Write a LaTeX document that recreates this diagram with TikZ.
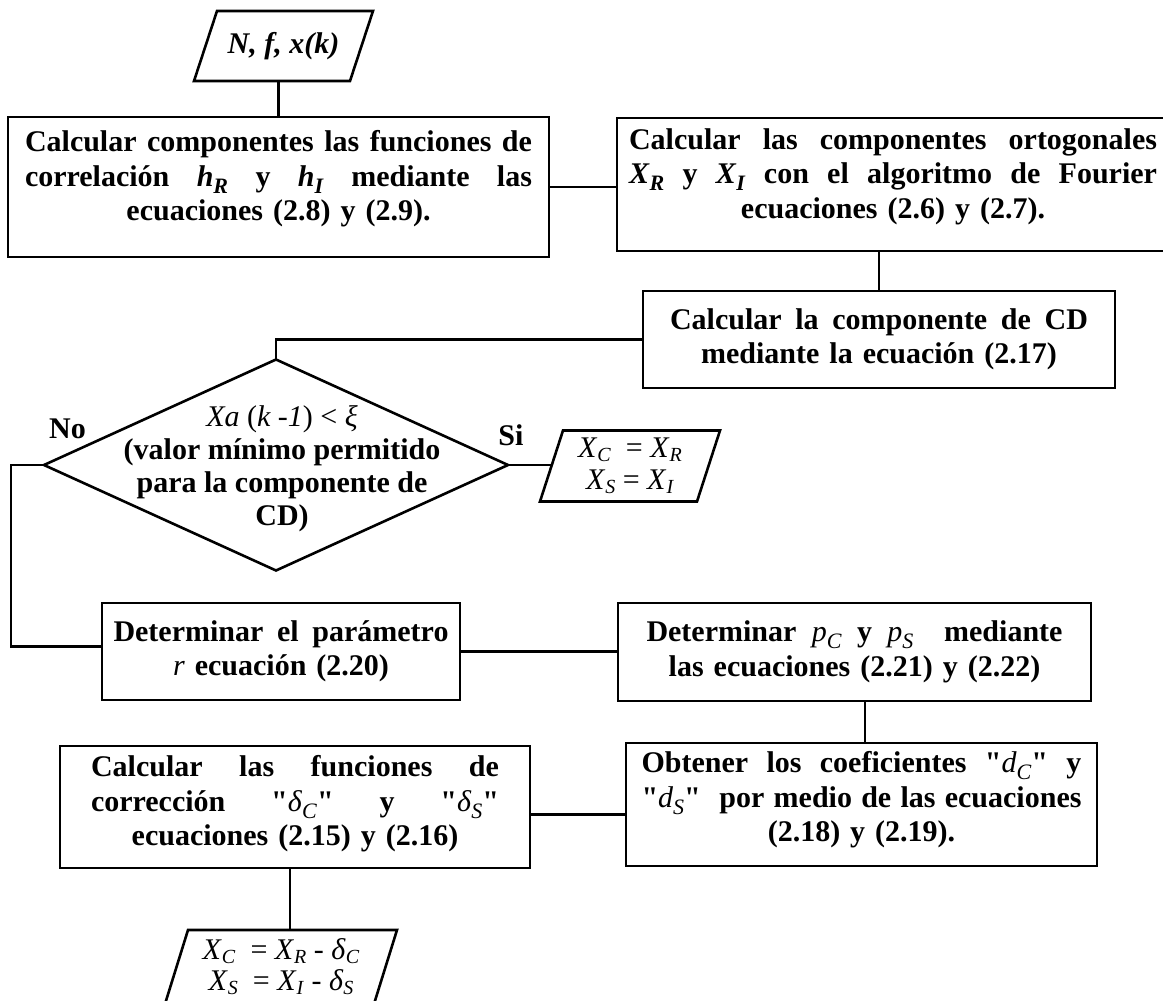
\documentclass[tikz,border=0pt]{standalone}
\usepackage{fontspec}
\setmainfont{Liberation Serif}[Ligatures=TeXOff]
\usetikzlibrary{shapes.geometric}
\newcommand{\sbx}[1]{\raisebox{-7pt}{\fontsize{22}{22}\selectfont\textit{#1}}}
\newcommand{\sbp}[1]{\raisebox{-4pt}{\fontsize{20}{20}\selectfont\textit{#1}}}
\newcommand{\bv}[2]{\textit{#1}\sbx{#2}}
\newcommand{\mv}[2]{{\mdseries\textit{#1}\sbx{#2}}}
\newcommand{\pv}[2]{{\mdseries\textit{#1}\sbp{#2}}}
\newcommand{\dstrut}[1]{\rule[-#1]{0pt}{#1}}
\newcommand{\jl}[1]{{\spaceskip=0pt\xspaceskip=0pt\makebox[\hsize][s]{#1}}}
\newcommand{\qt}{\char"22\relax}
\begin{document}
\begin{tikzpicture}[x=1pt,y=-1pt,
  every node/.style={font=\fontsize{30}{34.5}\selectfont\bfseries, inner sep=0pt, outer sep=0pt},
  box/.style={draw, line width=2.6pt, align=center},
  conn/.style={line width=2.6pt},
  dia/.style={draw, line width=2.6pt, diamond, minimum width=464pt, minimum height=211pt},
  dtext/.style={align=center, font=\fontsize{30}{33}\selectfont\bfseries},
  ptext/.style={align=center, font=\fontsize{30}{32}\selectfont\bfseries}
]
\clip (0,0) rectangle (1163,1001);
\fill[white] (0,0) rectangle (1163,1001);

% input parallelogram
\node[ptext, minimum width=179, minimum height=70] (p1) at (283.5,46) {\textit{N, f, x(k)}};
\draw[conn] ([xshift=23pt]p1.north west) -- (p1.north east) -- ([xshift=-23pt]p1.south east) -- (p1.south west) -- cycle;

% boxes
\node[box, minimum width=541, minimum height=140, text width=507] (b1) at (278.5,187)
 {\jl{Calcular componentes las funciones de}\\\jl{correlación \bv{h}{R} y \bv{h}{I} mediante las}\\ecuaciones (2.8) y (2.9).\dstrut{23pt}};
\node[box, minimum width=552, minimum height=133, text width=528] (b2) at (893,184.5)
 {\jl{Calcular las componentes ortogonales}\\\jl{\bv{X}{R} y \bv{X}{I} con el algoritmo de Fourier}\\ecuaciones (2.6) y (2.7).\dstrut{22pt}};
\node[box, minimum width=472, minimum height=97, text width=418] (b3) at (879,339.5)
 {\jl{Calcular la componente de CD}\\mediante la ecuación (2.17)};

% decision
\node[dia] (d) at (276,465) {};
\node[dtext] (dt) at ([xshift=6pt,yshift=-4pt]d.center)
 {{\mdseries\textit{Xa} (\textit{k -1}) < \textit{ξ}}\\(valor mínimo permitido\\para la componente de\\CD)};
\node (lno) at (67.5,429) {No};
\node (lsi) at (511,435) {Si};

% Si output
\node[ptext, minimum width=180, minimum height=71] (p2) at (630,466)
 {\pv{X}{C}\ \ {\mdseries=} \pv{X}{R}\\\pv{X}{S} {\mdseries=} \pv{X}{I}};
\draw[conn] ([xshift=23pt]p2.north west) -- (p2.north east) -- ([xshift=-23pt]p2.south east) -- (p2.south west) -- cycle;

\node[box, minimum width=358, minimum height=97, text width=335] (b4) at (281,651.5)
 {\jl{Determinar el parámetro}\\{\mdseries\textit{r}} ecuación (2.20)};
\node[box, minimum width=473, minimum height=98, text width=416] (b5) at (854.5,652)
 {\jl{Determinar \mv{p}{C} y \mv{p}{S} \ mediante}\\las ecuaciones (2.21) y (2.22)};
\node[box, minimum width=471, minimum height=123, text width=440] (b6) at (861.5,804.5)
 {\jl{Obtener los coeficientes \qt\mv{d}{C}\qt{} y}\\\jl{\qt\mv{d}{S}\qt{} \ por medio de las ecuaciones}\\(2.18) y (2.19).\dstrut{16pt}};
\node[box, minimum width=470, minimum height=122, text width=408] (b7) at (295,807)
 {\jl{Calcular las funciones de}\\\jl{corrección \qt\mv{δ}{C}\qt{} y \qt\mv{δ}{S}\qt}\\ecuaciones (2.15) y (2.16)\dstrut{13pt}};

% final output
\node[ptext, minimum width=232, minimum height=74, font=\fontsize{30}{31}\selectfont\bfseries] (p3) at (281,967)
 {\pv{X}{C}\ \ {\mdseries=} \pv{X}{R} {\mdseries-} \pv{δ}{C}\\\pv{X}{S}\ \ {\mdseries=} \pv{X}{I} {\mdseries-} \pv{δ}{S}};
\draw[conn] ([xshift=23pt]p3.north west) -- (p3.north east) -- ([xshift=-23pt]p3.south east) -- (p3.south west) -- cycle;

% helper coordinates
\coordinate (p2l) at ([xshift=11.5pt]p2.west);
\coordinate (lft) at ([xshift=-33pt]d.west);
\coordinate (b4w) at ([yshift=5pt]b4.west);
\coordinate (b5s) at ([xshift=10.5pt]b5.south);
\coordinate (b6w) at ([yshift=-10pt]b6.west);
\coordinate (b7s) at ([xshift=-5pt]b7.south);

% connectors
\draw[conn] (b1.north |- p1.south) -- (b1.north);
\draw[conn] (b1.east) -- (b1.east -| b2.west);
\draw[conn] (b3.north |- b2.south) -- (b3.north);
\draw[conn] (b3.west) -| (d.north);
\draw[conn] (d.east) -- (p2l |- d.east);
\draw[conn] (d.west) -- (lft) |- (b4w);
\draw[conn] (b4.east) -- (b4.east -| b5.west);
\draw[conn] (b5s) -- (b5s |- b6.north);
\draw[conn] (b6w) -- (b6w -| b7.east);
\draw[conn] (b7s) -- (b7s |- p3.north);
\end{tikzpicture}
\end{document}
